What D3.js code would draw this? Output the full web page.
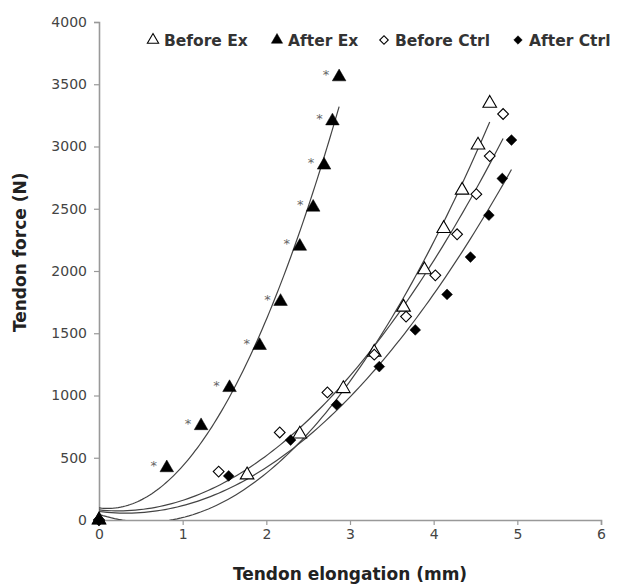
<!DOCTYPE html>
<html>
<head>
<meta charset="utf-8">
<script src="https://cdn.jsdelivr.net/npm/d3@7"></script>
<style>
  body { margin: 0; background: #fff; }
  text { font-family: "DejaVu Sans", Verdana, sans-serif; }
</style>
</head>
<body>
<script>
// values (elongation mm, force N)
const beforeExX = [0, 1.77, 2.40, 2.92, 3.29, 3.64, 3.89, 4.12, 4.34, 4.53, 4.67];
const beforeExY = [0, 362, 690, 1055, 1347, 1709, 2010, 2341, 2649, 3011, 3347];

const afterExX = [0, 0.81, 1.22, 1.56, 1.92, 2.17, 2.40, 2.56, 2.69, 2.79, 2.87];
const afterExY = [0, 419, 757, 1063, 1401, 1755, 2198, 2512, 2850, 3205, 3559];

const beforeCtrlX = [0, 1.43, 2.16, 2.73, 3.29, 3.67, 4.02, 4.28, 4.51, 4.67, 4.83];
const beforeCtrlY = [0, 389, 703, 1025, 1328, 1634, 1965, 2295, 2617, 2923, 3261];

const afterCtrlX = [0, 1.55, 2.29, 2.84, 3.35, 3.78, 4.16, 4.44, 4.66, 4.82, 4.93];
const afterCtrlY = [0, 354, 642, 926, 1232, 1527, 1812, 2112, 2448, 2743, 3052];

const xTicks = [0, 1, 2, 3, 4, 5, 6];
const yTicks = [0, 500, 1000, 1500, 2000, 2500, 3000, 3500, 4000];
const legendLabels = ["Before Ex", "After Ex", "Before Ctrl", "After Ctrl"];

const series = [
  {name: legendLabels[0], xs: beforeExX, ys: beforeExY, shape: "triangle", filled: false},
  {name: legendLabels[1], xs: afterExX, ys: afterExY, shape: "triangle", filled: true},
  {name: legendLabels[2], xs: beforeCtrlX, ys: beforeCtrlY, shape: "diamond", filled: false},
  {name: legendLabels[3], xs: afterCtrlX, ys: afterCtrlY, shape: "diamond", filled: true}
];

const width = 619, height = 586;
const margin = {left: 99, top: 22, right: 18, bottom: 66};

const svg = d3.select("body").append("svg")
    .attr("width", width)
    .attr("height", height);

const xScale = d3.scaleLinear()
    .domain([0, 6])
    .range([margin.left, width - margin.right]);

const yScale = d3.scaleLinear()
    .domain([0, 4000])
    .range([height - margin.bottom, margin.top]);

//plot area clip so trendlines stay inside the axes
svg.append("clipPath").attr("id", "plot")
  .append("rect")
    .attr("x", margin.left)
    .attr("y", margin.top)
    .attr("width", xScale(6) - margin.left)
    .attr("height", yScale(0) - margin.top);

//axes
const xAxis = svg.append("g")
    .attr("transform", `translate(0,${yScale(0)})`)
    .call(d3.axisBottom(xScale).tickValues(xTicks).tickSize(5).tickPadding(4).tickFormat(d3.format("d")));

const yAxis = svg.append("g")
    .attr("transform", `translate(${margin.left},0)`)
    .call(d3.axisLeft(yScale).tickValues(yTicks).tickSize(5).tickPadding(7).tickFormat(d3.format("d")));

[xAxis, yAxis].forEach(ax => {
  ax.select(".domain").attr("stroke", "#999").attr("stroke-width", 1.6);
  ax.selectAll(".tick line").attr("stroke", "#999").attr("stroke-width", 1.2);
  ax.selectAll(".tick text")
    .attr("fill", "#444")
    .style("font-size", "14px")
    .style("font-family", "'DejaVu Sans', Verdana, sans-serif");
});

svg.append("text")
    .attr("x", xScale(3))
    .attr("y", 580)
    .attr("text-anchor", "middle")
    .attr("font-weight", "bold")
    .attr("font-size", 17)
    .attr("fill", "#222")
    .text("Tendon elongation (mm)");

svg.append("text")
    .attr("transform", `translate(26,${yScale(2150)}) rotate(-90)`)
    .attr("text-anchor", "middle")
    .attr("font-weight", "bold")
    .attr("font-size", 17)
    .attr("fill", "#222")
    .text("Tendon force (N)");

//quadratic least squares trendline, same as the spreadsheet fit
function quadFit(xs, ys) {
  let s = [0, 0, 0, 0, 0], t = [0, 0, 0];
  xs.forEach((x, i) => {
    for (let k = 0; k <= 4; k++) s[k] += Math.pow(x, k);
    for (let k = 0; k <= 2; k++) t[k] += ys[i] * Math.pow(x, k);
  });
  const m = [[s[0], s[1], s[2], t[0]], [s[1], s[2], s[3], t[1]], [s[2], s[3], s[4], t[2]]];
  for (let i = 0; i < 3; i++) {
    for (let j = i + 1; j < 3; j++) {
      const f = m[j][i] / m[i][i];
      for (let k = i; k < 4; k++) m[j][k] -= f * m[i][k];
    }
  }
  const c = [0, 0, 0];
  for (let i = 2; i >= 0; i--) {
    let v = m[i][3];
    for (let k = i + 1; k < 3; k++) v -= m[i][k] * c[k];
    c[i] = v / m[i][i];
  }
  return x => c[0] + c[1] * x + c[2] * x * x;
}

const line = d3.line()
    .x(d => xScale(d[0]))
    .y(d => yScale(d[1]));

const trends = svg.append("g").attr("clip-path", "url(#plot)");
series.forEach(s => {
  const f = quadFit(s.xs, s.ys);
  const xmax = d3.max(s.xs);
  const pts = d3.range(0, 101).map(i => [xmax * i / 100, f(xmax * i / 100)]);
  trends.append("path")
      .datum(pts)
      .attr("fill", "none")
      .attr("stroke", "#444")
      .attr("stroke-width", 1.2)
      .attr("d", line);
});

//marker helper
function marker(g, shape, filled, size) {
  const sym = shape === "triangle" ? d3.symbolTriangle : d3.symbolSquare;
  const p = g.append("path")
      .attr("d", d3.symbol().type(sym).size(size)())
      .attr("fill", filled ? "#000" : "#fff")
      .attr("stroke", "#000")
      .attr("stroke-width", filled ? 0.5 : 1.1);
  if (shape === "diamond") p.attr("transform", "rotate(45)");
  return p;
}

series.forEach(s => {
  const pts = s.xs.map((x, i) => [x, s.ys[i]]);
  const grp = svg.append("g");
  pts.forEach(d => {
    const g = grp.append("g")
        .attr("transform", `translate(${xScale(d[0])},${yScale(d[1])})`);
    marker(g, s.shape, s.filled, s.shape === "triangle" ? 80 : 58);
  });
});

//significance asterisks next to the After Ex points
svg.append("g").selectAll("text")
    .data(afterExX.map((x, i) => [x, afterExY[i]]).filter(d => d[0] > 0))
    .enter()
    .append("text")
    .attr("x", d => xScale(d[0]) - 13)
    .attr("y", d => yScale(d[1]) + 2)
    .attr("text-anchor", "middle")
    .attr("font-size", 13)
    .attr("fill", "#666")
    .text("*");

//legend
const legendX = [153, 277, 384, 518];
const legend = svg.append("g");
series.forEach((s, i) => {
  const g = legend.append("g").attr("transform", `translate(${legendX[i]},40)`);
  marker(g, s.shape, s.filled, s.shape === "triangle" ? 55 : 36);
  g.append("text")
      .attr("x", 11)
      .attr("y", 5.5)
      .attr("font-weight", "bold")
      .attr("font-size", 15.5)
      .attr("fill", "#333")
      .text(s.name);
});
</script>
</body>
</html>
